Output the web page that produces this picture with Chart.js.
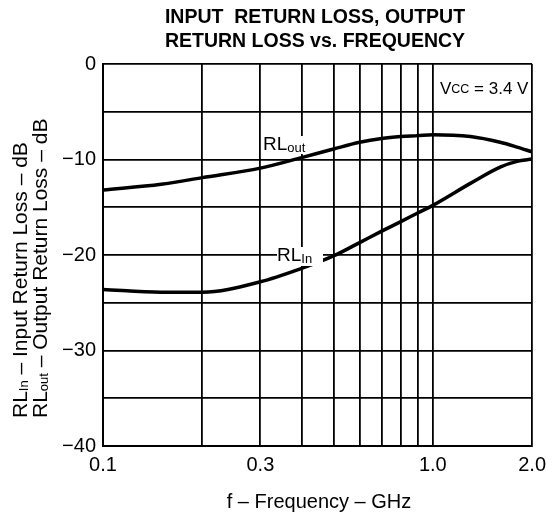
<!DOCTYPE html>
<html>
<head>
<meta charset="utf-8">
<script src="https://cdn.jsdelivr.net/npm/chart.js@4.4.0/dist/chart.umd.min.js"></script>
<style>
html, body { margin: 0; padding: 0; background: #fff; }
</style>
</head>
<body>
<canvas id="chart" width="553" height="514"></canvas>
<script>
// values
const freqs = [0.1, 0.15, 0.2, 0.3, 0.4, 0.5, 0.6, 0.7, 0.8, 0.9, 1.0, 1.3, 1.6, 1.8, 2.0];
const rlOut = [-13.2, -12.6, -11.9, -10.9, -9.8, -8.9, -8.2, -7.8, -7.6, -7.5, -7.4, -7.6, -8.2, -8.7, -9.2];
const rlIn = [-23.6, -23.9, -23.9, -22.8, -21.4, -20.1, -18.7, -17.5, -16.5, -15.6, -14.8, -12.5, -10.8, -10.2, -9.95];
const xTicks = [0.1, 0.2, 0.3, 0.4, 0.5, 0.6, 0.7, 0.8, 0.9, 1.0, 2.0];
const xTickLabels = { 0.1: '0.1', 0.3: '0.3', 1: '1.0', 2: '2.0' };
const yTickLabels = { 0: '0', '-10': '\u221210', '-20': '\u221220', '-30': '\u221230', '-40': '\u221240' };

const FONT = '"Liberation Sans", Arial, Helvetica, sans-serif';

const toPts = (ys) => freqs.map((f, i) => ({ x: f, y: ys[i] }));

// draw text made of pieces with different sizes (for subscripts)
function richText(ctx, parts, x, y, align) {
    let total = 0;
    parts.forEach(p => { ctx.font = p.font; total += ctx.measureText(p.text).width; });
    let cx = align === 'center' ? x - total / 2 : (align === 'right' ? x - total : x);
    ctx.textAlign = 'left';
    ctx.textBaseline = 'middle';
    parts.forEach(p => {
        ctx.font = p.font;
        ctx.fillText(p.text, cx, y + (p.dy || 0));
        cx += ctx.measureText(p.text).width;
    });
}

const big = '21px ' + FONT;
const sub = '13px ' + FONT;

const textPlugin = {
    id: 'texts',
    afterDraw(chart) {
        const ctx = chart.ctx;
        ctx.save();
        ctx.fillStyle = '#000';
        ctx.font = 'bold 19.5px ' + FONT;
        ctx.textAlign = 'center';
        ctx.textBaseline = 'middle';
        ctx.fillText('INPUT  RETURN LOSS, OUTPUT', 315, 18);
        ctx.fillText('RETURN LOSS vs. FREQUENCY', 315, 42);

        ctx.font = '20px ' + FONT;
        ctx.fillText('f \u2013 Frequency \u2013 GHz', 319, 502);

        // y axis title, two rotated lines, starting at the bottom
        ctx.save();
        ctx.translate(0, 418);
        ctx.rotate(-Math.PI / 2);
        richText(ctx, [
            { text: 'RL', font: big },
            { text: 'In', font: sub, dy: 3 },
            { text: ' \u2013 Input Return Loss \u2013 dB', font: big }
        ], 0, 21, 'left');
        richText(ctx, [
            { text: 'RL', font: big },
            { text: 'out', font: sub, dy: 3 },
            { text: ' \u2013 Output Return Loss \u2013 dB', font: big }
        ], 0, 41, 'left');
        ctx.restore();

        const lbl = '19px ' + FONT;
        const lsub = '13px ' + FONT;
        richText(ctx, [
            { text: 'V', font: '17px ' + FONT },
            { text: 'CC', font: '12.5px ' + FONT, dy: 1 },
            { text: ' = 3.4 V', font: '17px ' + FONT }
        ], 440, 89, 'left');

        ctx.fillStyle = '#fff';
        ctx.fillRect(263, 136, 46, 18);
        ctx.fillRect(277, 247, 46, 19);
        ctx.fillStyle = '#000';
        richText(ctx, [
            { text: 'RL', font: lbl },
            { text: 'out', font: lsub, dy: 3 }
        ], 263, 145, 'left');
        richText(ctx, [
            { text: 'RL', font: lbl },
            { text: 'In', font: lsub, dy: 3 }
        ], 277, 256, 'left');
        ctx.restore();
    }
};

new Chart(document.querySelector('#chart'), {
    type: 'line',
    data: {
        datasets: [
            {
                label: 'RLout',
                data: toPts(rlOut),
                borderColor: '#000',
                borderWidth: 3.5,
                pointRadius: 0,
                cubicInterpolationMode: 'monotone'
            },
            {
                label: 'RLin',
                data: toPts(rlIn),
                borderColor: '#000',
                borderWidth: 3.5,
                pointRadius: 0,
                cubicInterpolationMode: 'monotone'
            }
        ]
    },
    options: {
        responsive: false,
        animation: false,
        layout: { padding: { top: 64, right: 19, bottom: 24, left: 0 } },
        plugins: {
            legend: { display: false },
            title: { display: false },
            tooltip: { enabled: false }
        },
        scales: {
            x: {
                type: 'logarithmic',
                min: 0.1,
                max: 2.0,
                afterBuildTicks(scale) {
                    scale.ticks = xTicks.map(v => ({ value: v }));
                },
                afterFit(scale) { scale.height = 44; },
                ticks: {
                    autoSkip: false,
                    maxRotation: 0,
                    padding: 7,
                    color: '#000',
                    font: { family: FONT, size: 20 },
                    callback: (v) => xTickLabels[Math.round(v * 10) / 10] || ''
                },
                grid: { color: '#000', lineWidth: 1.8, drawTicks: false },
                border: { color: '#000', width: 2 }
            },
            y: {
                min: -40,
                max: 0,
                afterFit(scale) { scale.width = 103; },
                ticks: {
                    stepSize: 5,
                    padding: 7,
                    color: '#000',
                    font: { family: FONT, size: 20 },
                    callback: (v) => yTickLabels[v] || ''
                },
                grid: { color: '#000', lineWidth: 1.8, drawTicks: false },
                border: { color: '#000', width: 2 }
            }
        }
    },
    plugins: [textPlugin]
});
</script>
</body>
</html>
